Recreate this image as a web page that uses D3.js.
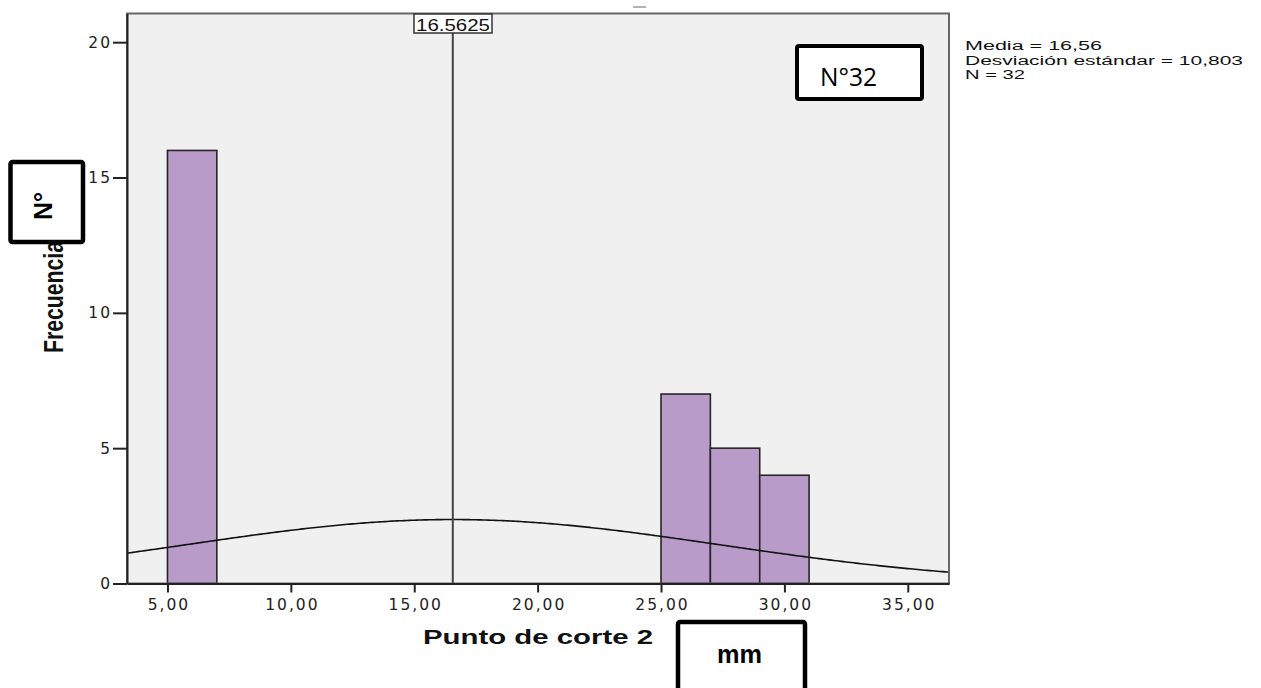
<!DOCTYPE html>
<html>
<head>
<meta charset="utf-8">
<script src="https://cdn.jsdelivr.net/npm/d3@7"></script>
<style>
  body { margin: 0; background: #fff; }
  svg { display: block; }
</style>
</head>
<body>
<div id="chart"></div>
<script>
var binStarts = [5, 25, 27, 29];
var binCounts = [16, 7, 5, 4];
var binWidth = 2;
var xTicks = [5, 10, 15, 20, 25, 30, 35];
var yTicks = [0, 5, 10, 15, 20];
var mean = 16.5625;
var stdDev = 10.803;
var total = 32;
var statLines = ["Media = 16,56", "Desviación estándar = 10,803", "N = 32"];

var drawHistogram = function() {
  var w = 1261, h = 688;
  var pLeft = 127, pRight = 949, pTop = 13.5, pBottom = 583.5;

  var svg = d3.select("#chart")
    .append("svg")
    .attr("width", w)
    .attr("height", h);

  var xScale = d3.scaleLinear()
    .domain([3.36, 36.67])
    .range([pLeft, pRight]);

  var yScale = d3.scaleLinear()
    .domain([0, 21.06])
    .range([pBottom, pTop]);

  // plot background
  svg.append("rect")
    .attr("x", pLeft)
    .attr("y", pTop)
    .attr("width", pRight - pLeft)
    .attr("height", pBottom - pTop)
    .attr("fill", "#f0f0f0");

  svg.append("defs").append("clipPath")
    .attr("id", "plotClip")
    .append("rect")
    .attr("x", pLeft)
    .attr("y", pTop)
    .attr("width", pRight - pLeft)
    .attr("height", pBottom - pTop);

  // bars
  svg.selectAll("rect.bar")
    .data(binStarts)
    .enter()
    .append("rect")
    .attr("class", "bar")
    .attr("x", function(d) { return xScale(d); })
    .attr("y", function(d, i) { return yScale(binCounts[i]); })
    .attr("width", function(d) { return xScale(d + binWidth) - xScale(d); })
    .attr("height", function(d, i) { return pBottom - yScale(binCounts[i]); })
    .attr("fill", "#b89bc8")
    .attr("stroke", "#262626")
    .attr("stroke-width", 1.6);

  // normal curve scaled to the histogram
  var xs = d3.range(3.3, 36.8, 0.1);
  var curve = d3.line()
    .x(function(d) { return xScale(d); })
    .y(function(d) {
      var z = (d - mean) / stdDev;
      return yScale(total * binWidth * Math.exp(-0.5 * z * z) / (stdDev * Math.sqrt(2 * Math.PI)));
    });

  svg.append("path")
    .datum(xs)
    .attr("d", curve)
    .attr("fill", "none")
    .attr("stroke", "#111")
    .attr("stroke-width", 1.6)
    .attr("clip-path", "url(#plotClip)");

  // mean line
  svg.append("line")
    .attr("x1", xScale(mean))
    .attr("x2", xScale(mean))
    .attr("y1", pTop)
    .attr("y2", pBottom)
    .attr("stroke", "#444")
    .attr("stroke-width", 2);

  // plot frame
  svg.append("rect")
    .attr("x", pLeft)
    .attr("y", pTop)
    .attr("width", pRight - pLeft)
    .attr("height", pBottom - pTop)
    .attr("fill", "none")
    .attr("stroke", "#666")
    .attr("stroke-width", 2);

  // axes
  var yAxis = d3.axisLeft(yScale)
    .tickValues(yTicks)
    .tickSizeInner(14)
    .tickSizeOuter(0)
    .tickPadding(1)
    .tickFormat(d3.format("d"));

  var xAxis = d3.axisBottom(xScale)
    .tickValues(xTicks)
    .tickSizeInner(9)
    .tickSizeOuter(0)
    .tickPadding(6)
    .tickFormat(function(d) { return d.toFixed(2).replace(".", ","); });

  var gy = svg.append("g")
    .attr("transform", "translate(" + pLeft + ",0)")
    .call(yAxis);

  var gx = svg.append("g")
    .attr("transform", "translate(0," + pBottom + ")")
    .call(xAxis);

  [gx, gy].forEach(function(g) {
    g.select(".domain").attr("stroke", "#222").attr("stroke-width", 2);
    g.selectAll(".tick line").attr("stroke", "#222").attr("stroke-width", 2);
    g.selectAll(".tick text")
      .attr("fill", "#222")
      .attr("font-family", "DejaVu Sans, sans-serif")
      .attr("font-size", "15.5px")
      .attr("letter-spacing", "2px");
  });
  gx.selectAll(".tick text").attr("dx", "1px");

  // mean label
  svg.append("rect")
    .attr("x", 414)
    .attr("y", 14)
    .attr("width", 78)
    .attr("height", 19)
    .attr("fill", "#fff")
    .attr("stroke", "#333")
    .attr("stroke-width", 1.5);
  svg.append("text")
    .attr("x", 416)
    .attr("y", 30.5)
    .attr("font-family", "Liberation Sans, Arial, sans-serif")
    .attr("font-size", "17px")
    .attr("textLength", 74)
    .attr("lengthAdjust", "spacingAndGlyphs")
    .attr("fill", "#111")
    .text(String(mean));

  // small mark above plot
  svg.append("line")
    .attr("x1", 633).attr("x2", 646)
    .attr("y1", 7).attr("y2", 7)
    .attr("stroke", "#999")
    .attr("stroke-width", 1.5);

  // stats text
  var statWidths = [137, 278, 60];
  svg.selectAll("text.stat")
    .data(statLines)
    .enter()
    .append("text")
    .attr("class", "stat")
    .attr("x", 965)
    .attr("y", function(d, i) { return 50 + i * 14.5; })
    .attr("font-family", "Liberation Sans, Arial, sans-serif")
    .attr("font-size", "12px")
    .attr("textLength", function(d, i) { return statWidths[i]; })
    .attr("lengthAdjust", "spacingAndGlyphs")
    .attr("fill", "#111")
    .text(function(d) { return d; });

  // axis titles
  svg.append("text")
    .attr("x", 423)
    .attr("y", 644)
    .attr("font-family", "Liberation Sans, Arial, sans-serif")
    .attr("font-weight", "bold")
    .attr("font-size", "20px")
    .attr("textLength", 230)
    .attr("lengthAdjust", "spacingAndGlyphs")
    .attr("fill", "#111")
    .text("Punto de corte 2");

  svg.append("text")
    .attr("transform", "translate(63,353) rotate(-90)")
    .attr("font-family", "Liberation Sans Narrow, Liberation Sans, Arial, sans-serif")
    .attr("font-weight", "bold")
    .attr("font-size", "28px")
    .attr("textLength", 112)
    .attr("lengthAdjust", "spacingAndGlyphs")
    .attr("fill", "#111")
    .text("Frecuencia");

  // annotation boxes
  svg.append("rect")
    .attr("x", 10.5).attr("y", 162)
    .attr("width", 72.5).attr("height", 80)
    .attr("fill", "#fff")
    .attr("stroke", "#000")
    .attr("stroke-width", 4.5)
    .attr("rx", 2);
  svg.append("text")
    .attr("transform", "translate(52,220) rotate(-90)")
    .attr("font-family", "Liberation Sans, Arial, sans-serif")
    .attr("font-weight", "bold")
    .attr("font-size", "25px")
    .attr("textLength", 28)
    .attr("lengthAdjust", "spacingAndGlyphs")
    .attr("fill", "#000")
    .text("N°");

  svg.append("rect")
    .attr("x", 797).attr("y", 46)
    .attr("width", 125).attr("height", 53)
    .attr("fill", "#fff")
    .attr("stroke", "#000")
    .attr("stroke-width", 4)
    .attr("rx", 2);
  svg.append("text")
    .attr("x", 820)
    .attr("y", 86)
    .attr("font-family", "Open Sans, sans-serif")
    .attr("font-size", "26px")
    .attr("textLength", 57)
    .attr("lengthAdjust", "spacingAndGlyphs")
    .attr("fill", "#000")
    .text("N°32");

  svg.append("rect")
    .attr("x", 678).attr("y", 622)
    .attr("width", 127).attr("height", 80)
    .attr("fill", "#fff")
    .attr("stroke", "#000")
    .attr("stroke-width", 4.5)
    .attr("rx", 2);
  svg.append("text")
    .attr("x", 717)
    .attr("y", 663)
    .attr("font-family", "Liberation Sans, Arial, sans-serif")
    .attr("font-weight", "bold")
    .attr("font-size", "25px")
    .attr("textLength", 45)
    .attr("lengthAdjust", "spacingAndGlyphs")
    .attr("fill", "#000")
    .text("mm");
};

drawHistogram();
</script>
</body>
</html>
